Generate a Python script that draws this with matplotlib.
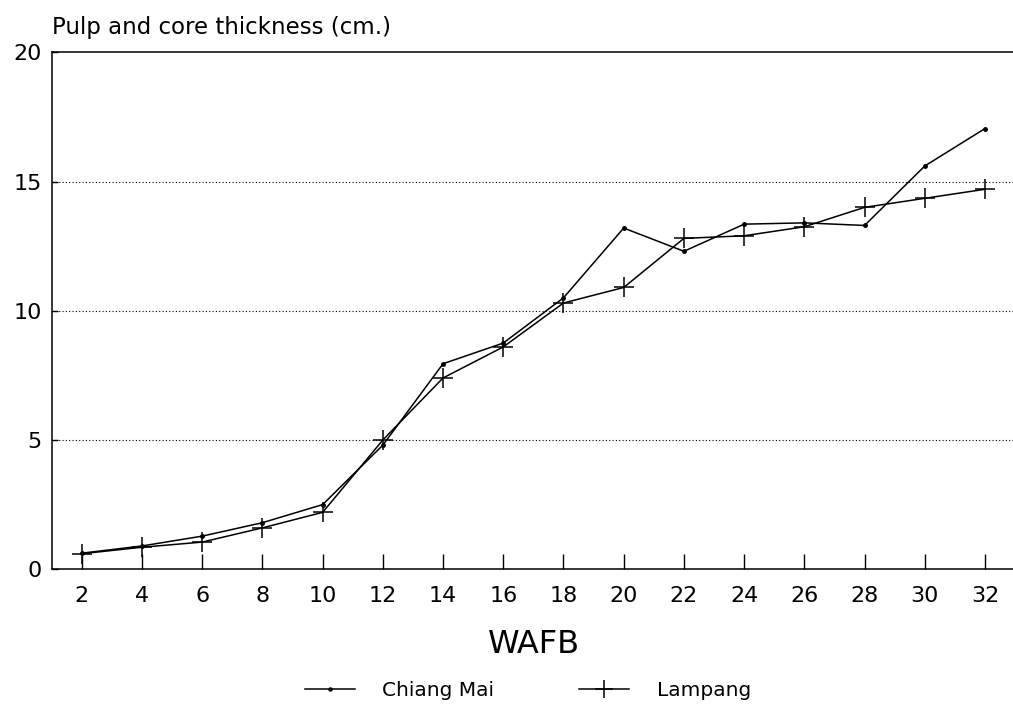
#!/usr/bin/env python3

import matplotlib
matplotlib.use('Agg')
import matplotlib.pyplot as plt

plt.rcParams['font.family'] = ['DejaVu Sans']

# weeks after full bloom
wafb = [2, 4, 6, 8, 10, 12, 14, 16, 18, 20, 22, 24, 26, 28, 30, 32]
chiang_mai = [0.62, 0.9, 1.28, 1.8, 2.5, 4.8, 7.95, 8.75, 10.5, 13.2, 12.3, 13.35, 13.4, 13.3, 15.6, 17.05]
lampang = [0.6, 0.85, 1.05, 1.6, 2.2, 5.0, 7.4, 8.6, 10.3, 10.9, 12.8, 12.9, 13.25, 14.0, 14.35, 14.7]

x_ticks = list(range(2, 33, 2))
y_ticks = [0, 5, 10, 15, 20]

fig = plt.figure(figsize=(10.13, 7.16), dpi=100)
ax = fig.add_axes([0.051, 0.205, 0.96, 0.722])

ax.plot(wafb, chiang_mai, color='black', linewidth=1.1,
		marker='o', markersize=2.5, label='Chiang Mai')
ax.plot(wafb, lampang, color='black', linewidth=1.1,
		marker='+', markersize=15, markeredgewidth=1.1, label='Lampang')

ax.set_xlim(1.0, 33.3)
ax.set_ylim(0, 20)
ax.set_xticks(x_ticks)
ax.set_yticks(y_ticks)
ax.tick_params(axis='x', direction='in', length=11, width=1, labelsize=16, pad=12)
ax.tick_params(axis='y', direction='in', length=4, width=1, labelsize=16, pad=7)

for y in y_ticks[1:-1]:
	ax.axhline(y, color='black', linestyle=(0, (1, 2)), linewidth=0.8)

ax.spines['right'].set_visible(False)
for side in ('top', 'bottom', 'left'):
	ax.spines[side].set_linewidth(1.1)

fig.text(0.527, 0.088, 'WAFB', fontsize=23, ha='center', va='baseline')
fig.text(0.051, 0.953, 'Pulp and core thickness (cm.)', fontsize=16.5, ha='left', va='baseline')

fig.legend(loc='center left', bbox_to_anchor=(0.301, 0.036), ncol=2, frameon=False,
		   fontsize=14.5, handlelength=2.5, handletextpad=1.35, columnspacing=4.2,
		   borderpad=0, borderaxespad=0, markerscale=0.9)

fig.savefig('out.png', dpi=100)
